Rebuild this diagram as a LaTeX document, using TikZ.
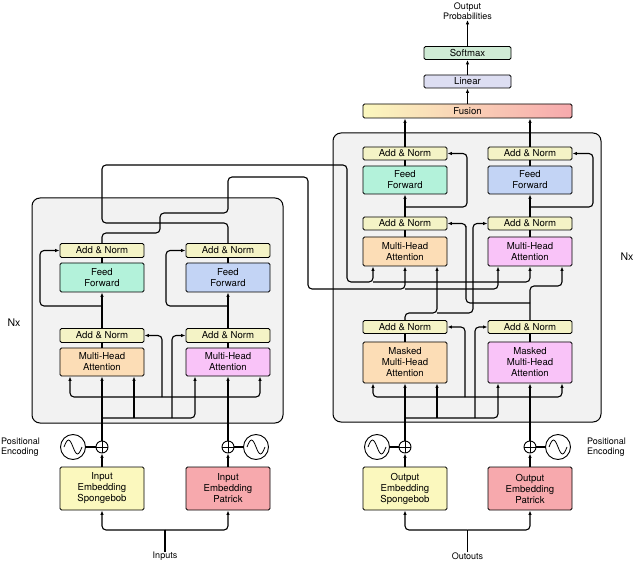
\documentclass[tikz,border=0pt]{standalone}
\usepackage{fontspec}
\setmainfont{TeX Gyre Heros}
\usetikzlibrary{arrows.meta}
\definecolor{cAN}{HTML}{F4F3C6}
\definecolor{cFFa}{HTML}{B3F2DA}
\definecolor{cFFb}{HTML}{C3D4F5}
\definecolor{cMHa}{HTML}{FCDDB6}
\definecolor{cMHb}{HTML}{F9C3F8}
\definecolor{cEa}{HTML}{FBF8BE}
\definecolor{cEb}{HTML}{F7A9AD}
\definecolor{cBox}{HTML}{F2F2F2}
\definecolor{cSM}{HTML}{CFEBD5}
\definecolor{cLin}{HTML}{DDDEF2}
\begin{document}
\begin{tikzpicture}[x=1pt,y=-1pt,
  font=\fontsize{9.6}{11}\selectfont,
  blk/.style={draw,line width=0.9pt,rounded corners=1.5pt,align=center,inner sep=0pt,minimum width=84pt},
  an/.style={blk,fill=cAN,minimum height=14pt},
  ln/.style={line width=1.1pt},
  arr/.style={ln,-{Latex[length=4.5pt,width=3.5pt]}},
  rc/.style={rounded corners=4pt},
  big/.style={rounded corners=8pt,line width=1pt},
  lbl/.style={align=center,inner sep=0pt,font=\fontsize{9}{10.5}\selectfont}]
\useasboundingbox (0,0) rectangle (640,561);
% big boxes (fill)
\fill[cBox,rounded corners=8pt] (32,198) rectangle (283,423);
\fill[cBox,rounded corners=8pt] (333,133) rectangle (601,422);
% encoder blocks
\node[an] (anEa2) at (102,250.5) {Add \& Norm};
\node[blk,fill=cFFa,minimum height=29pt] (ffEa) at (102,277.5) {Feed\\Forward};
\node[an] (anEa1) at (102,335.5) {Add \& Norm};
\node[blk,fill=cMHa,minimum height=28pt] (mhEa) at (102,362) {Multi-Head\\Attention};
\node[an] (anEb2) at (228,250.5) {Add \& Norm};
\node[blk,fill=cFFb,minimum height=29pt] (ffEb) at (228,277.5) {Feed\\Forward};
\node[an] (anEb1) at (228,335.5) {Add \& Norm};
\node[blk,fill=cMHb,minimum height=28pt] (mhEb) at (228,362) {Multi-Head\\Attention};
% decoder blocks
\node[an,minimum height=13pt] (anDa3) at (405,153.5) {Add \& Norm};
\node[blk,fill=cFFa,minimum height=28pt] (ffDa) at (405,180) {Feed\\Forward};
\node[an,minimum height=13pt] (anDa2) at (405,223.5) {Add \& Norm};
\node[blk,fill=cMHa,minimum height=29pt] (mhDa) at (405,251.5) {Multi-Head\\Attention};
\node[an,minimum height=13pt] (anDa1) at (405,327) {Add \& Norm};
\node[blk,fill=cMHa,minimum height=41pt] (mmDa) at (405,362.5) {Masked\\Multi-Head\\Attention};
\node[an,minimum height=13pt] (anDb3) at (530,153.5) {Add \& Norm};
\node[blk,fill=cFFb,minimum height=28pt] (ffDb) at (530,180) {Feed\\Forward};
\node[an,minimum height=13pt] (anDb2) at (530,223.5) {Add \& Norm};
\node[blk,fill=cMHb,minimum height=29pt] (mhDb) at (530,251.5) {Multi-Head\\Attention};
\node[an,minimum height=13pt] (anDb1) at (530,327) {Add \& Norm};
\node[blk,fill=cMHb,minimum height=41pt] (mmDb) at (530,362.5) {Masked\\Multi-Head\\Attention};
% top
\node[blk,minimum width=209pt,minimum height=14pt,left color=cEa,right color=cEb] (fus) at (467.5,111) {Fusion};
\node[blk,fill=cLin,minimum width=87pt,minimum height=13pt] (lin) at (467.5,81.5) {Linear};
\node[blk,fill=cSM,minimum width=87pt,minimum height=13pt] (smx) at (467.5,53) {Softmax};
\node[lbl] (prob) at (467.5,11) {Output\\Probabilities};
% embeddings
\node[blk,fill=cEa,minimum height=43pt] (ieA) at (102,488.5) {Input\\Embedding\\Spongebob};
\node[blk,fill=cEb,minimum height=43pt] (ieB) at (228,488.5) {Input\\Embedding\\Patrick};
\node[blk,fill=cEa,minimum height=43pt] (oeA) at (405,488.5) {Output\\Embedding\\Spongebob};
\node[blk,fill=cEb,minimum height=43pt] (oeB) at (530,488.5) {Output\\Embedding\\Patrick};
% plus and sine
\foreach \n/\px/\sx in {pA/102/73, pB/228/256, pC/405/377, pD/530/558}{
  \node[draw,circle,line width=0.9pt,minimum size=12pt,inner sep=0pt,fill=white] (\n) at (\px,447) {};
  \draw[line width=0.7pt] (\n.north)--(\n.south) (\n.west)--(\n.east);
  \node[draw,circle,line width=0.9pt,minimum size=25pt,inner sep=0pt,fill=white] (s\n) at (\sx,447) {};
  \draw[line width=0.8pt] ([xshift=-9pt]s\n.center) sin +(4.5,-7) cos +(4.5,7) sin +(4.5,7) cos +(4.5,-7);
}
\draw[ln] (spA)--(pA); \draw[ln] (spB)--(pB); \draw[ln] (spC)--(pC); \draw[ln] (spD)--(pD);
\node[lbl,align=left,anchor=west] (peL) at (1,447) {Positional\\Encoding};
\node[lbl,align=left,anchor=west] (peR) at (587,447) {Positional\\Encoding};
\node[lbl] (inp) at (165,556) {Inputs};
\node[lbl] (outp) at (467.5,556) {Outouts};
\node[font=\fontsize{10.5}{12}\selectfont] (nxL) at (14,323) {Nx};
\node[font=\fontsize{10.5}{12}\selectfont] (nxR) at (627,257) {Nx};
% inputs fork
\draw[ln] (inp.north)--(165,530);
\draw[arr,rc] (165,530) -| (ieA.south);
\draw[arr,rc] (165,530) -| (ieB.south);
\draw[ln] (outp.north)--(467.5,530);
\draw[arr,rc] (467.5,530) -| (oeA.south);
\draw[arr,rc] (467.5,530) -| (oeB.south);
\foreach \e/\p in {ieA/pA, ieB/pB, oeA/pC, oeB/pD}{\draw[arr] (\e.north)--(\p.south);}
% ---------- encoder ----------
\draw[arr] (pB.north)--(mhEb.south);
\draw[arr,rc] (228,397) -| ([xshift=32pt]mhEb.south);
\draw[arr,rc] (228,397) -| ([xshift=-32pt]mhEa.south);
\draw[arr,rc] (162,397) |- (anEa1.east);
\draw[arr] (pA.north)--(mhEa.south);
\draw[arr] (134,418)--([xshift=32pt]mhEa.south);
\draw[arr,rc] (102,418) -| ([xshift=-33pt]mhEb.south);
\draw[arr,rc] (172,418) |- (anEb1.west);
\foreach \c in {a,b}{
  \draw[ln] (mhE\c.north)--(anE\c1.south);
  \draw[arr] (anE\c1.north)--(ffE\c.south);
  \draw[ln] (ffE\c.north)--(anE\c2.south);
}
\draw[arr,rc] (102,306) -| (40,250.5) -- (anEa2.west);
\draw[arr,rc] (228,306) -| (166,250.5) -- (anEb2.west);
% encoder outputs
\draw[arr,rc] (anEb2.north) |- (102,223) |- (347,165) |- (373,282) -- ([xshift=-32pt]mhDa.south);
\draw[arr,rc] (373,282) -| (mhDb.south);
\draw[arr,rc] (anEa2.north) |- (160,233) |- (228,213) |- (308,177) |- (405,289) -- (mhDa.south);
\draw[arr,rc] (405,289) -| ([xshift=-32pt]mhDb.south);
% ---------- decoder ----------
\draw[arr] (pD.north)--(mmDb.south);
\draw[arr,rc] (530,397) -| ([xshift=32pt]mmDb.south);
\draw[arr,rc] (530,397) -| ([xshift=-32pt]mmDa.south);
\draw[arr,rc] (465,397) |- (anDa1.east);
\draw[arr] (pC.north)--(mmDa.south);
\draw[arr] (437,418)--([xshift=32pt]mmDa.south);
\draw[arr,rc] (405,418) -| ([xshift=-32pt]mmDb.south);
\draw[arr,rc] (475,418) |- (anDb1.west);
\foreach \c in {a,b}{
  \draw[ln] (mmD\c.north)--(anD\c1.south);
  \draw[ln] (mhD\c.north)--(anD\c2.south);
  \draw[arr] (anD\c2.north)--(ffD\c.south);
  \draw[ln] (ffD\c.north)--(anD\c3.south);
}
\draw[arr,rc] (anDa1.north) |- (437,313) -- ([xshift=32pt]mhDa.south);
\draw[arr,rc] (437,313) -- (473,313) |- (anDb2.west);
\draw[arr,rc] (anDb1.north) |- (562,286) -- ([xshift=32pt]mhDb.south);
\draw[arr,rc] (530,303) -| (466,230) |- (anDa2.east);
\draw[arr,rc] (405,207) -| (467,153.5) -- (anDa3.east);
\draw[arr,rc] (530,207) -| (593,153.5) -- (anDb3.east);
% top
\draw[arr] (anDa3.north)--([xshift=-62.5pt]fus.south);
\draw[arr] (anDb3.north)--([xshift=62.5pt]fus.south);
\draw[arr] (fus.north)--(lin.south);
\draw[arr] (lin.north)--(smx.south);
\draw[arr] (smx.north)--(prob.south);
% big box borders
\draw[big] (32,198) rectangle (283,423);
\draw[big] (333,133) rectangle (601,422);
\end{tikzpicture}
\end{document}
